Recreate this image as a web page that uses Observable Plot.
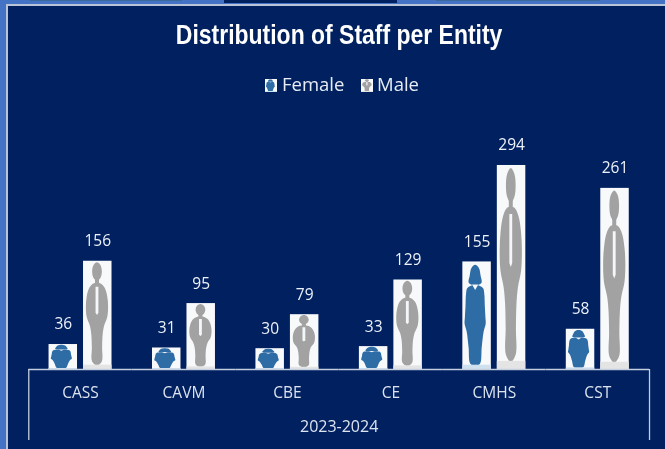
<!DOCTYPE html>
<html>
<head>
<meta charset="utf-8">
<script src="https://cdn.jsdelivr.net/npm/d3@7"></script>
<script src="https://cdn.jsdelivr.net/npm/@observablehq/plot@0.6"></script>
<style>
html,body{margin:0;padding:0;width:665px;height:449px;overflow:hidden;background:#4472C4;}
#panel{position:absolute;left:8px;top:6px;width:657px;height:443px;background:#002060;}
#edgeL{position:absolute;left:6px;top:4px;width:2px;height:445px;background:#b9c4d8;}
#edgeT{position:absolute;left:6px;top:4px;width:659px;height:2px;background:#b9c4d8;}
.tab{position:absolute;top:0;height:1px;background:#3a6a9c;}
#tabMid{position:absolute;left:224px;top:0;width:173px;height:3px;background:#002060;}
#title{position:absolute;left:0;top:19px;width:665px;text-align:center;color:#fff;font:bold 28px "Liberation Sans",Arial,sans-serif;filter:blur(.3px);}
#title span{display:inline-block;transform:scaleX(.82);transform-origin:center;margin-left:13px;white-space:nowrap;}
#legend{position:absolute;left:265px;top:71px;height:26px;color:#e8edf5;font:18.5px "Open Sans",sans-serif;line-height:26px;white-space:nowrap;filter:blur(.3px);}
#legend svg{position:absolute;top:8px;}
#legend span{position:absolute;top:0;}
#chart{position:absolute;left:0;top:110px;filter:blur(.45px);}
</style>
</head>
<body>
<div id="edgeL"></div><div id="edgeT"></div><div id="panel"></div>
<div class="tab" style="left:30px;width:152px"></div>
<div class="tab" style="left:436px;width:164px"></div>
<div id="tabMid"></div>
<div id="title"><span>Distribution of Staff per Entity</span></div>
<div id="legend"></div>
<div id="chart"></div>
<script>
const entities = ["CASS", "CAVM", "CBE", "CE", "CMHS", "CST"];
const female = [36, 31, 30, 33, 155, 58];
const male = [156, 95, 79, 129, 294, 261];
const genders = ["Female", "Male"];
const period = "2023-2024";
const colors = {Female: "#2e6ca6", Male: "#a2a2a2"};
const strips = {Female: "#cfe0ee", Male: "#e4e4e4"};

// Pictogram outlines, in fractions of the picture that fills a bar
const shapes = {
  Male: {
    head: [[.49,.015],[.61,.04],[.66,.1],[.61,.16],[.49,.185],[.37,.16],[.32,.1],[.37,.04]],
    neck: [[.42,.16],[.56,.16],[.56,.23],[.42,.23]],
    body: [[.49,.205],[.62,.21],[.76,.25],[.85,.33],[.88,.42],[.85,.52],[.74,.6],[.69,.68],[.67,.8],[.66,.93],[.49,.965],[.32,.93],[.31,.8],[.29,.68],[.24,.6],[.13,.52],[.1,.42],[.13,.33],[.22,.25],[.36,.21]],
    tie: [[.44,.24],[.54,.24],[.54,.48],[.49,.5],[.44,.48]]
  },
  Female: {
    head: [[.45,.03],[.58,.06],[.64,.13],[.67,.2],[.45,.22],[.23,.2],[.26,.13],[.32,.06]],
    neck: [[.36,.19],[.54,.19],[.54,.24],[.36,.24]],
    body: [[.45,.22],[.6,.225],[.73,.25],[.77,.3],[.79,.42],[.81,.52],[.82,.58],[.75,.65],[.68,.8],[.62,.95],[.45,.97],[.28,.95],[.22,.8],[.15,.65],[.08,.58],[.09,.52],[.11,.42],[.13,.3],[.17,.25],[.3,.225]],
    tie: [[.34,.215],[.56,.215],[.45,.265]]
  }
};
const closed = d3.line().curve(d3.curveCatmullRomClosed.alpha(.5));
const plain = d3.line();

function drawFigure(parent, gender, x, y, w, h) {
  const place = pts => pts.map(([a, b]) => [x + a * w, y + b * h]);
  const add = (d, fill) => {
    const p = document.createElementNS("http://www.w3.org/2000/svg", "path");
    p.setAttribute("d", d);
    p.setAttribute("fill", fill);
    parent.appendChild(p);
  };
  const s = shapes[gender];
  add(closed(place(s.head)), colors[gender]);
  add(plain(place(s.neck)) + "Z", colors[gender]);
  add(closed(place(s.body)), colors[gender]);
  add(plain(place(s.tie)) + "Z", "#f4f6fa");
  const strip = Math.max(1, h * .04);
  add(plain([[x, y + h - strip], [x + w, y + h - strip], [x + w, y + h], [x, y + h]]) + "Z", strips[gender]);
}

const rows = entities.flatMap((entity, i) => [
  {entity, gender: "Female", value: female[i]},
  {entity, gender: "Male", value: male[i]}
]);

const ink = "#dde4ef";
const line = "#c4cede";
const plot = Plot.plot({
  width: 665,
  height: 339,
  marginTop: 20,
  marginBottom: 9,
  marginLeft: 28.3,
  marginRight: 16,
  style: {background: "transparent", color: ink, fontFamily: "Open Sans, sans-serif", overflow: "visible"},
  x: {domain: genders, paddingInner: .174, paddingOuter: .587, round: false, axis: null},
  fx: {domain: entities, padding: 0, round: false, label: null},
  y: {domain: [-102.3, 344.4], axis: null},
  marks: [
    Plot.barY(rows, {
      x: "gender", fx: "entity", y: "value", fill: "#f8f9fb",
      render(index, scales, values, dimensions, context, next) {
        const g = next(index, scales, values, dimensions, context);
        g.querySelectorAll("rect").forEach((r, k) => {
          drawFigure(g, rows[index[k]].gender, +r.getAttribute("x"), +r.getAttribute("y"),
            +r.getAttribute("width"), +r.getAttribute("height"));
        });
        return g;
      }
    }),
    Plot.text(rows, {
      x: "gender", fx: "entity", y: "value", text: d => String(d.value),
      dy: -20, fontSize: 15.5, fill: "#eef2f8"
    }),
    Plot.ruleY([0], {stroke: line, strokeWidth: 1.3}),
    Plot.ruleX([entities[0]], {fx: d => d, x: () => genders[0], y1: 0, y2: -102.3, dx: -34.5, stroke: line, strokeWidth: 1.3}),
    Plot.ruleX([entities[5]], {fx: d => d, x: () => genders[1], y1: 0, y2: -102.3, dx: 34.5, stroke: line, strokeWidth: 1.3}),
    Plot.axisFx({anchor: "bottom", tickSize: 0, tickPadding: 0, dy: -54, fontSize: 15.5, label: null}),
    Plot.text([period], {facet: "super", frameAnchor: "bottom", dy: -9, fontSize: 16, fill: ink})
  ]
});
document.getElementById("chart").appendChild(plot);

// Legend
const legend = document.getElementById("legend");
const entries = [["Female", 0, 17], ["Male", 96, 112]];
entries.forEach(([g, sx, tx]) => {
  const s = d3.create("svg").attr("width", 12).attr("height", 13).style("left", sx + "px").node();
  const bg = document.createElementNS("http://www.w3.org/2000/svg", "rect");
  bg.setAttribute("width", 12); bg.setAttribute("height", 13); bg.setAttribute("fill", "#f8f9fb");
  s.appendChild(bg);
  drawFigure(s, g, 0, 0, 12, 13);
  legend.appendChild(s);
  const t = document.createElement("span");
  t.textContent = g; t.style.left = tx + "px";
  legend.appendChild(t);
});
</script>
</body>
</html>
